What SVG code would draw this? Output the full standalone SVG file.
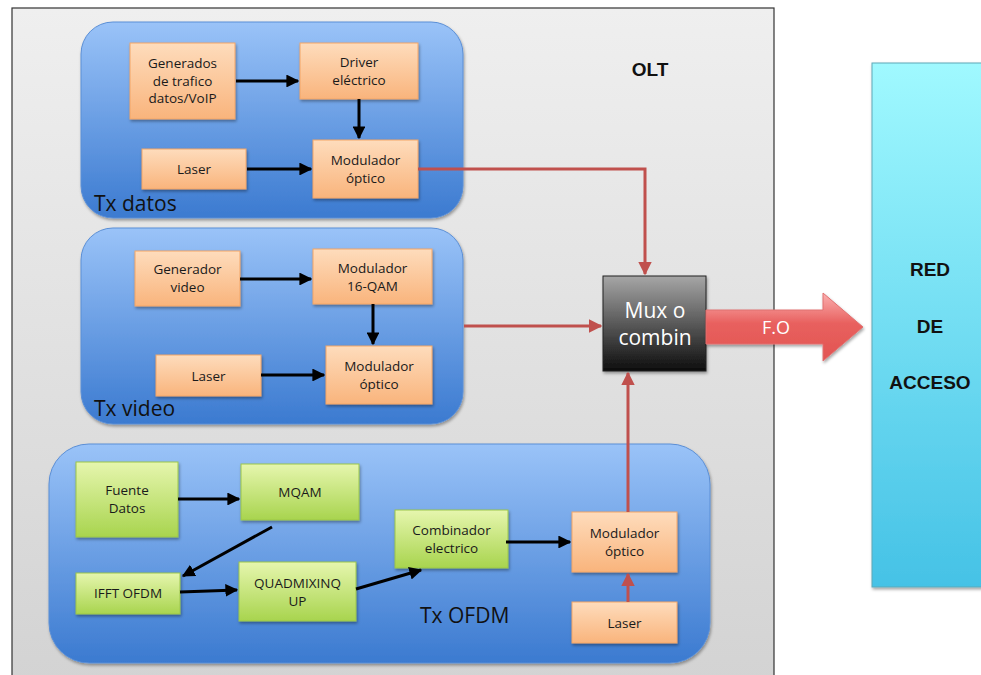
<svg xmlns="http://www.w3.org/2000/svg" width="981" height="675" viewBox="0 0 981 675">
  <defs>
    <linearGradient id="gOlt" x1="0" y1="0" x2="0" y2="1">
      <stop offset="0" stop-color="#efefef"/>
      <stop offset="1" stop-color="#d3d3d3"/>
    </linearGradient>
    <linearGradient id="gPanel" x1="0" y1="0" x2="0" y2="1">
      <stop offset="0" stop-color="#9ac3f8"/>
      <stop offset="1" stop-color="#3b7ad0"/>
    </linearGradient>
    <linearGradient id="gOrange" x1="0" y1="0" x2="0" y2="1">
      <stop offset="0" stop-color="#fedcbc"/>
      <stop offset="1" stop-color="#f9b47c"/>
    </linearGradient>
    <linearGradient id="gGreen" x1="0" y1="0" x2="0" y2="1">
      <stop offset="0" stop-color="#e6f6ae"/>
      <stop offset="1" stop-color="#a8d44e"/>
    </linearGradient>
    <linearGradient id="gMux" x1="0" y1="0" x2="0" y2="1">
      <stop offset="0" stop-color="#a6a6a6"/>
      <stop offset="1" stop-color="#0d0d0d"/>
    </linearGradient>
    <linearGradient id="gRed" x1="0" y1="0" x2="0" y2="1">
      <stop offset="0" stop-color="#a0f9ff"/>
      <stop offset="1" stop-color="#45c2e6"/>
    </linearGradient>
    <linearGradient id="gFo" x1="0" y1="0" x2="0" y2="1">
      <stop offset="0" stop-color="#fbb0b0"/>
      <stop offset="0.45" stop-color="#e8605e"/>
      <stop offset="1" stop-color="#e25452"/>
    </linearGradient>
    <filter id="shadow" x="-10%" y="-10%" width="125%" height="130%">
      <feDropShadow dx="1" dy="2" stdDeviation="1.5" flood-color="#000" flood-opacity="0.35"/>
    </filter>
    <marker id="ahBlack" viewBox="0 0 10 10" refX="9" refY="5" markerWidth="4.3" markerHeight="4.3" orient="auto">
      <path d="M0,0 L10,5 L0,10 z" fill="#000"/>
    </marker>
    <marker id="ahRed" viewBox="0 0 10 10" refX="9" refY="5" markerWidth="4.5" markerHeight="4.5" orient="auto">
      <path d="M0,0 L10,5 L0,10 z" fill="#c0504d"/>
    </marker>
  </defs>
  <style>
    .panel { fill: url(#gPanel); stroke: #5b8fd6; stroke-width: 1; filter: url(#shadow); }
    .orange { fill: url(#gOrange); stroke: #f4a666; stroke-width: 1; filter: url(#shadow); }
    .green { fill: url(#gGreen); stroke: #9cc64a; stroke-width: 1; filter: url(#shadow); }
    .lbl { font-family: "Open Sans", "Liberation Sans", sans-serif; font-size: 13.5px; fill: #1a1a1a; text-anchor: middle; }
    .plbl { font-family: "Open Sans", "Liberation Sans", sans-serif; font-size: 21px; fill: #111; }
    .blk { stroke: #000; stroke-width: 3; fill: none; marker-end: url(#ahBlack); }
    .red { stroke: #c0504d; stroke-width: 3; fill: none; }
    .big { font-family: "Liberation Sans", Arial, sans-serif; font-size: 19px; font-weight: bold; fill: #111; text-anchor: middle; }
  </style>

  <!-- OLT enclosure -->
  <g id="olt">
    <rect x="12" y="8" width="762" height="675" fill="url(#gOlt)" stroke="#333" stroke-width="1.2"/>
    <text x="650" y="76" class="big" font-size="21">OLT</text>
  </g>

  <!-- Transmitter panels -->
  <g id="tx-datos">
    <rect x="81" y="22" width="382" height="196" rx="32" class="panel"/>
    <text x="94" y="211" class="plbl">Tx datos</text>
  </g>
  <g id="tx-video">
    <rect x="81" y="228" width="382" height="196" rx="32" class="panel"/>
    <text x="94" y="416" class="plbl">Tx video</text>
  </g>
  <g id="tx-ofdm">
    <rect x="49" y="444" width="661" height="219" rx="40" class="panel"/>
    <text x="420" y="623" class="plbl" font-size="22">Tx OFDM</text>
  </g>

  <!-- Tx datos nodes -->
  <g id="generados">
    <rect x="130" y="43" width="105" height="76" class="orange"/>
    <text class="lbl"><tspan x="182.5" y="68">Generados</tspan><tspan x="182.5" y="85.5">de trafico</tspan><tspan x="182.5" y="103">datos/VoIP</tspan></text>
  </g>
  <g id="driver">
    <rect x="300" y="43" width="118" height="56" class="orange"/>
    <text class="lbl"><tspan x="359" y="67">Driver</tspan><tspan x="359" y="84.5">eléctrico</tspan></text>
  </g>
  <g id="laser-datos">
    <rect x="142" y="149" width="104" height="40" class="orange"/>
    <text x="194" y="174" class="lbl">Laser</text>
  </g>
  <g id="mod-datos">
    <rect x="313" y="140" width="105" height="58" class="orange"/>
    <text class="lbl"><tspan x="365.5" y="165">Modulador</tspan><tspan x="365.5" y="182.5">óptico</tspan></text>
  </g>

  <!-- Tx video nodes -->
  <g id="gen-video">
    <rect x="135" y="251" width="105" height="55" class="orange"/>
    <text class="lbl"><tspan x="187.5" y="274">Generador</tspan><tspan x="187.5" y="291.5">video</tspan></text>
  </g>
  <g id="mod-16qam">
    <rect x="313" y="249" width="119" height="55" class="orange"/>
    <text class="lbl"><tspan x="372.5" y="273">Modulador</tspan><tspan x="372.5" y="290.5">16-QAM</tspan></text>
  </g>
  <g id="laser-video">
    <rect x="156" y="355" width="105" height="41" class="orange"/>
    <text x="208.5" y="380.5" class="lbl">Laser</text>
  </g>
  <g id="mod-video">
    <rect x="326" y="346" width="106" height="58" class="orange"/>
    <text class="lbl"><tspan x="379" y="371">Modulador</tspan><tspan x="379" y="388.5">óptico</tspan></text>
  </g>

  <!-- Tx OFDM nodes -->
  <g id="fuente">
    <rect x="76" y="462" width="102" height="75" class="green"/>
    <text class="lbl"><tspan x="127" y="495">Fuente</tspan><tspan x="127" y="512.5">Datos</tspan></text>
  </g>
  <g id="mqam">
    <rect x="241" y="464" width="118" height="56" class="green"/>
    <text x="300" y="497" class="lbl">MQAM</text>
  </g>
  <g id="ifft">
    <rect x="76" y="573" width="104" height="41" class="green"/>
    <text x="128" y="598" class="lbl">IFFT OFDM</text>
  </g>
  <g id="quadmix">
    <rect x="239" y="562" width="117" height="59" class="green"/>
    <text class="lbl"><tspan x="297.5" y="588">QUADMIXINQ</tspan><tspan x="297.5" y="605.5">UP</tspan></text>
  </g>
  <g id="combinador">
    <rect x="395" y="510" width="113" height="58" class="green"/>
    <text class="lbl"><tspan x="451.5" y="535">Combinador</tspan><tspan x="451.5" y="552.5">electrico</tspan></text>
  </g>
  <g id="mod-ofdm">
    <rect x="572" y="512" width="105" height="60" class="orange"/>
    <text class="lbl"><tspan x="624.5" y="538">Modulador</tspan><tspan x="624.5" y="555.5">óptico</tspan></text>
  </g>
  <g id="laser-ofdm">
    <rect x="572" y="602" width="105" height="41" class="orange"/>
    <text x="624.5" y="627.5" class="lbl">Laser</text>
  </g>

  <!-- Multiplexer -->
  <g id="mux">
    <rect x="603" y="276" width="103" height="95" fill="url(#gMux)" stroke="#222" stroke-width="1" filter="url(#shadow)"/>
    <text font-family="'Open Sans', 'Liberation Sans', sans-serif" font-size="21" fill="#fff" text-anchor="middle"><tspan x="655" y="318">Mux o</tspan><tspan x="655" y="345">combin</tspan></text>
  </g>

  <!-- Access network -->
  <g id="red-acceso">
    <rect x="872" y="63" width="115" height="524" fill="url(#gRed)" stroke="#5fa8b8" stroke-width="1" filter="url(#shadow)"/>
    <text x="930" y="276" class="big">RED</text>
    <text x="930" y="333" class="big">DE</text>
    <text x="930" y="389" class="big">ACCESO</text>
  </g>

  <!-- Connectors -->
  <g id="connectors">
    <path d="M236,81 H298" class="blk"/>
    <path d="M359,99 V138" class="blk"/>
    <path d="M247,169 H311" class="blk"/>

    <path d="M240,279 H311" class="blk"/>
    <path d="M373,304 V344" class="blk"/>
    <path d="M261,375 H324" class="blk"/>

    <path d="M178,499 H239" class="blk"/>
    <path d="M272,527 L183,576" class="blk"/>
    <path d="M180,592 L237,590" class="blk"/>
    <path d="M356,589 L421,570" class="blk" stroke-width="2"/>
    <path d="M506,542 H570" class="blk"/>

    <path d="M628,602 V574" class="red" marker-end="url(#ahRed)"/>
    <path d="M418,169 H645 V274" class="red" marker-end="url(#ahRed)"/>
    <path d="M464,326 H601" class="red" marker-end="url(#ahRed)"/>
    <path d="M628,512 V373" class="red" marker-end="url(#ahRed)"/>

    <!-- Fibre link -->
    <g id="fo-arrow">
      <path d="M706,310 H823 V293 L863,327 L823,361 V344 H706 Z" fill="url(#gFo)" stroke="#e07070" stroke-width="1" filter="url(#shadow)"/>
      <text x="776" y="334" font-family="'Open Sans', 'Liberation Sans', sans-serif" font-size="18" fill="#fff" text-anchor="middle">F.O</text>
    </g>
  </g>
</svg>
